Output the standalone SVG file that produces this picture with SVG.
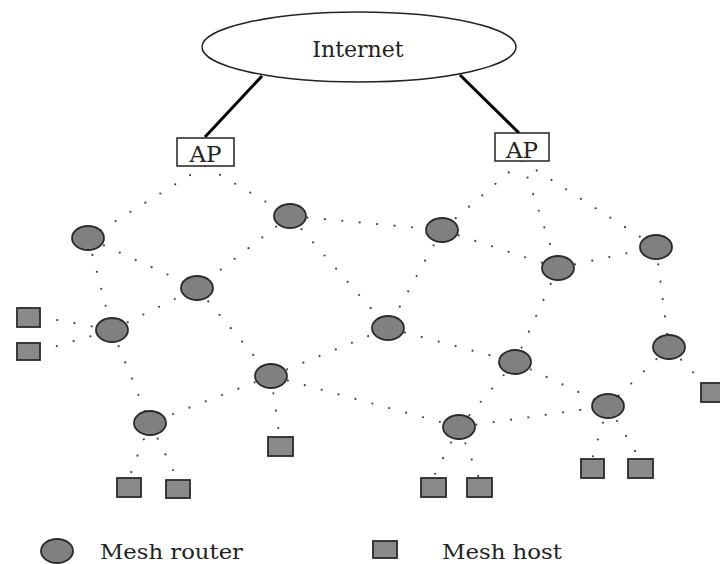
<svg xmlns="http://www.w3.org/2000/svg" width="720" height="564" viewBox="0 0 720 564">
<style>
.txt{font-family:"DejaVu Serif","Liberation Serif",serif;fill:#222}
.wire{stroke:#000;stroke-width:3;fill:none}
.dot{stroke:#444;stroke-width:2.2;stroke-linecap:round;stroke-dasharray:0 17.5;fill:none}
.router{fill:#808080;stroke:#2a2a2a;stroke-width:1.8}
.host{fill:#8a8a8a;stroke:#2a2a2a;stroke-width:1.8}
.ap{fill:#fff;stroke:#222;stroke-width:1.5}
</style>
<rect width="720" height="564" fill="#fff"/>
<g id="connectors">
<line class="wire" x1="262" y1="76" x2="205" y2="137"/>
<line class="wire" x1="460" y1="75" x2="519" y2="133"/>
<path class="dot" d="M205 166 L88 238"/>
<path class="dot" d="M205 166 L290 216"/>
<path class="dot" d="M522 161 L442 230"/>
<path class="dot" d="M522 161 L558 268"/>
<path class="dot" d="M522 161 L656 247"/>
<path class="dot" d="M88 238 L197 288"/>
<path class="dot" d="M88 238 L112 330"/>
<path class="dot" d="M290 216 L197 288"/>
<path class="dot" d="M290 216 L442 230"/>
<path class="dot" d="M290 216 L388 328"/>
<path class="dot" d="M112 330 L197 288"/>
<path class="dot" d="M40 317 L112 330"/>
<path class="dot" d="M40 351 L112 330"/>
<path class="dot" d="M112 330 L150 423"/>
<path class="dot" d="M197 288 L271 376"/>
<path class="dot" d="M271 376 L388 328"/>
<path class="dot" d="M271 376 L150 423"/>
<path class="dot" d="M271 376 L281 447"/>
<path class="dot" d="M150 423 L129 478"/>
<path class="dot" d="M150 423 L178 480"/>
<path class="dot" d="M271 376 L459 427"/>
<path class="dot" d="M442 230 L388 328"/>
<path class="dot" d="M442 230 L558 268"/>
<path class="dot" d="M558 268 L656 247"/>
<path class="dot" d="M558 268 L515 362"/>
<path class="dot" d="M656 247 L669 347"/>
<path class="dot" d="M388 328 L515 362"/>
<path class="dot" d="M515 362 L608 406"/>
<path class="dot" d="M515 362 L459 427"/>
<path class="dot" d="M459 427 L608 406"/>
<path class="dot" d="M669 347 L608 406"/>
<path class="dot" d="M669 347 L712 392"/>
<path class="dot" d="M608 406 L592 459"/>
<path class="dot" d="M608 406 L640 459"/>
<path class="dot" d="M459 427 L433 478"/>
<path class="dot" d="M459 427 L479 478"/>
</g>
<g id="internet">
<ellipse cx="359" cy="47" rx="157" ry="35" fill="#fff" stroke="#222" stroke-width="1.5"/>
<text class="txt" x="358" y="57" font-size="22" text-anchor="middle">Internet</text>
</g>
<g id="ap1">
<rect class="ap" x="177" y="138" width="57" height="28"/>
<text class="txt" x="205.5" y="162" font-size="23" text-anchor="middle">AP</text>
</g>
<g id="ap2">
<rect class="ap" x="495" y="133" width="54" height="28"/>
<text class="txt" x="522" y="158" font-size="23" text-anchor="middle">AP</text>
</g>
<g id="r1"><ellipse class="router" cx="88" cy="238" rx="16" ry="12"/></g>
<g id="r2"><ellipse class="router" cx="290" cy="216" rx="16" ry="12"/></g>
<g id="r3"><ellipse class="router" cx="197" cy="288" rx="16" ry="12"/></g>
<g id="r4"><ellipse class="router" cx="112" cy="330" rx="16" ry="12"/></g>
<g id="r5"><ellipse class="router" cx="271" cy="376" rx="16" ry="12"/></g>
<g id="r6"><ellipse class="router" cx="442" cy="230" rx="16" ry="12"/></g>
<g id="r7"><ellipse class="router" cx="558" cy="268" rx="16" ry="12"/></g>
<g id="r8"><ellipse class="router" cx="656" cy="247" rx="16" ry="12"/></g>
<g id="r9"><ellipse class="router" cx="388" cy="328" rx="16" ry="12"/></g>
<g id="r10"><ellipse class="router" cx="515" cy="362" rx="16" ry="12"/></g>
<g id="r11"><ellipse class="router" cx="669" cy="347" rx="16" ry="12"/></g>
<g id="r12"><ellipse class="router" cx="150" cy="423" rx="16" ry="12"/></g>
<g id="r13"><ellipse class="router" cx="459" cy="427" rx="16" ry="12"/></g>
<g id="r14"><ellipse class="router" cx="608" cy="406" rx="16" ry="12"/></g>
<g id="h1"><rect class="host" x="17" y="308" width="23" height="19"/></g>
<g id="h2"><rect class="host" x="17" y="343" width="23" height="17"/></g>
<g id="h3"><rect class="host" x="117" y="478" width="24" height="19"/></g>
<g id="h4"><rect class="host" x="166" y="480" width="24" height="18"/></g>
<g id="h5"><rect class="host" x="268" y="437" width="25" height="19"/></g>
<g id="h6"><rect class="host" x="421" y="478" width="25" height="19"/></g>
<g id="h7"><rect class="host" x="467" y="478" width="25" height="19"/></g>
<g id="h8"><rect class="host" x="581" y="459" width="23" height="19"/></g>
<g id="h9"><rect class="host" x="628" y="459" width="25" height="19"/></g>
<g id="h10"><rect class="host" x="701" y="383" width="22" height="19"/></g>
<g id="legend">
<ellipse class="router" cx="57" cy="551" rx="16" ry="12"/>
<text class="txt" x="100" y="559" font-size="21" textLength="143" lengthAdjust="spacingAndGlyphs">Mesh router</text>
<rect class="host" x="373" y="541" width="24" height="17"/>
<text class="txt" x="442" y="559" font-size="21" textLength="120" lengthAdjust="spacingAndGlyphs">Mesh host</text>
</g>
</svg>
